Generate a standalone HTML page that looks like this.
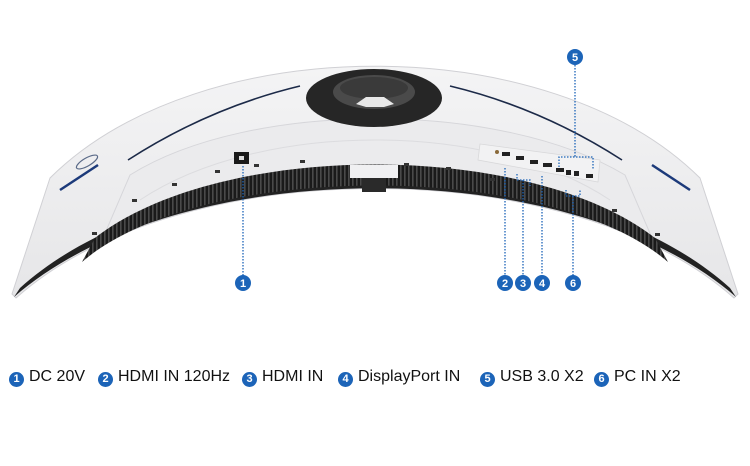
<!DOCTYPE html>
<html><head><meta charset="utf-8"><style>
html,body{margin:0;padding:0;background:#fff;}
body{width:750px;height:466px;position:relative;overflow:hidden;font-family:"Liberation Sans",sans-serif;}
.lg{position:absolute;top:368px;font-size:16px;color:#111;white-space:nowrap;}
.c{position:absolute;top:372px;width:15px;height:15px;border-radius:50%;background:#1c64b8;color:#fff;font-size:11px;font-weight:bold;text-align:center;line-height:15px;}
</style></head><body>
<svg width="750" height="466" style="position:absolute;left:0;top:0">
<defs>
<pattern id="gr" width="4" height="4" patternUnits="userSpaceOnUse"><rect width="4" height="4" fill="#1a1a1a"/><rect width="1.6" height="4" fill="#4a4a4a"/></pattern>
<linearGradient id="bg" x1="0" y1="0" x2="0" y2="1"><stop offset="0" stop-color="#f4f4f5"/><stop offset="1" stop-color="#e6e6e8"/></linearGradient>
</defs>
<path d="M50,178 C200,29 550,29 700,178 L738,294 L734,298 C570,152 180,152 16,298 L12,294 Z" fill="url(#bg)" stroke="#d0d0d4" stroke-width="1"/>
<path d="M100,245 L130,175 C250,100 500,100 625,175 L655,245 C560,140 190,140 100,245Z" fill="#ebebed" stroke="#d6d6da" stroke-width="1"/>
<path d="M140,200 C260,120 490,120 610,200" fill="none" stroke="#dcdcdf" stroke-width="1"/>
<path d="M14,297 C180,152 570,152 736,297 L730,288 C570,143 180,143 20,288 Z" fill="#222"/>
<path d="M95,238 C220,140 530,140 655,238 L668,262 C550,160 200,160 82,262 Z" fill="url(#gr)"/>
<rect x="350" y="165" width="48" height="13" fill="#f0f0f2"/>
<rect x="362" y="178" width="24" height="14" fill="#2a2a2a"/>
<path d="M128,160 C190,120 250,98 300,86" fill="none" stroke="#1c2a48" stroke-width="1.6"/>
<path d="M622,160 C560,120 500,98 450,86" fill="none" stroke="#1c2a48" stroke-width="1.6"/>
<path d="M60,190 L98,165" stroke="#1c3a7a" stroke-width="2.5"/>
<path d="M690,190 L652,165" stroke="#1c3a7a" stroke-width="2.5"/>
<ellipse cx="87" cy="162" rx="12" ry="4" fill="none" stroke="#5a6a88" stroke-width="1.2" transform="rotate(-30 87 162)"/>
<ellipse cx="374" cy="98" rx="68" ry="29" fill="#262626"/>
<ellipse cx="374" cy="92" rx="41" ry="17" fill="#4a4a4a"/>
<ellipse cx="374" cy="88" rx="34" ry="11" fill="#3a3a3a"/>
<path d="M356,104 L366,97 L384,97 L394,104 L384,107 L366,107Z" fill="#e8e8e8"/>
<rect x="234" y="152" width="15" height="12" fill="#1a1a1a"/>
<rect x="239" y="156" width="5" height="4" fill="#ddd"/>
<path d="M480,144 L600,160 L598,182 L478,160Z" fill="#f2f2f3" stroke="#d8d8da" stroke-width="0.8"/>
<circle cx="497" cy="152" r="2" fill="#8a6a3a"/>
<rect x="502" y="152" width="8" height="4" fill="#222"/>
<rect x="516" y="156" width="8" height="4" fill="#222"/>
<rect x="530" y="160" width="8" height="4" fill="#222"/>
<rect x="543" y="163" width="9" height="4" fill="#222"/>
<rect x="556" y="168" width="8" height="4" fill="#222"/>
<rect x="566" y="170" width="5" height="5" fill="#222"/>
<rect x="574" y="171" width="5" height="5" fill="#222"/>
<rect x="586" y="174" width="7" height="4" fill="#222"/>
<g fill="#333">
<rect x="215" y="170" width="5" height="3"/><rect x="254" y="164" width="5" height="3"/><rect x="300" y="160" width="5" height="3"/>
<rect x="404" y="163" width="5" height="3"/><rect x="446" y="167" width="5" height="3"/><rect x="490" y="178" width="5" height="3"/>
<rect x="172" y="183" width="5" height="3"/><rect x="132" y="199" width="5" height="3"/><rect x="92" y="232" width="5" height="3"/>
<rect x="612" y="209" width="5" height="3"/><rect x="655" y="233" width="5" height="3"/>
</g>
<g stroke="#1c64b8" stroke-width="1.3" stroke-dasharray="1.5 1.5" fill="none">
<path d="M243,166 V276"/>
<path d="M505,168 V276"/>
<path d="M517,174 V180 H530 V186 M523,180 V276"/>
<path d="M542,176 V276"/>
<path d="M566,190 V196 H580 V190 M573,196 V276"/>
<path d="M575,65 V157 M559,167 V157 H593 V170"/>
</g>
<g font-family="Liberation Sans,sans-serif" font-size="11" font-weight="bold" fill="#fff" text-anchor="middle">
<circle cx="243" cy="283" r="8" fill="#1c64b8"/><text x="243" y="287">1</text>
<circle cx="505" cy="283" r="8" fill="#1c64b8"/><text x="505" y="287">2</text>
<circle cx="523" cy="283" r="8" fill="#1c64b8"/><text x="523" y="287">3</text>
<circle cx="542" cy="283" r="8" fill="#1c64b8"/><text x="542" y="287">4</text>
<circle cx="573" cy="283" r="8" fill="#1c64b8"/><text x="573" y="287">6</text>
<circle cx="575" cy="57" r="8" fill="#1c64b8"/><text x="575" y="61">5</text>
</g>
</svg>
<div class="c" style="left:9px">1</div><div class="lg" style="left:29px">DC 20V</div>
<div class="c" style="left:98px">2</div><div class="lg" style="left:118px">HDMI IN 120Hz</div>
<div class="c" style="left:242px">3</div><div class="lg" style="left:262px">HDMI IN</div>
<div class="c" style="left:338px">4</div><div class="lg" style="left:358px">DisplayPort IN</div>
<div class="c" style="left:480px">5</div><div class="lg" style="left:500px">USB 3.0 X2</div>
<div class="c" style="left:594px">6</div><div class="lg" style="left:614px">PC IN X2</div>
</body></html>
